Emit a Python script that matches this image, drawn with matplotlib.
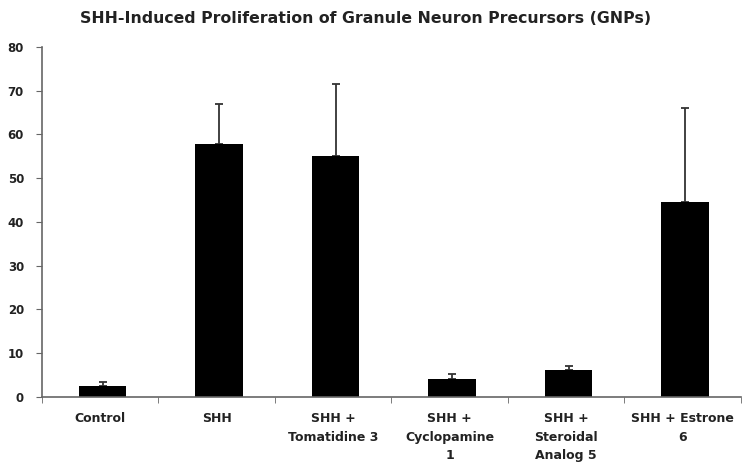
import numpy as np
import matplotlib
matplotlib.use("Agg")
import matplotlib.pyplot as plt

# データ
labels = ["Control", "SHH", "SHH +\nTomatidine 3", "SHH +\nCyclopamine\n1",
          "SHH +\nSteroidal\nAnalog 5", "SHH + Estrone\n6"]
values = [2.5, 57.8, 55.1, 4.1, 6.2, 44.6]
errors = [0.9, 9.2, 16.4, 1.1, 0.9, 21.4]

plt.rcParams["font.family"] = ["DejaVu Sans"]

fig = plt.figure(figsize=(7.42, 4.65), dpi=100)
ax = fig.add_axes([0.0566, 0.1462, 0.942, 0.753])

x = np.arange(len(labels)) + 0.02
ax.bar(x, values, width=0.41, color="black", zorder=2)
ax.errorbar(x, values, yerr=[np.zeros(len(errors)), errors], fmt="none",
            ecolor="#333333", elinewidth=1.3, capsize=3, capthick=1.3, zorder=1)

ax.set_xlim(-0.5, len(labels) - 0.5)
ax.set_ylim(0, 80)
ax.set_yticks(range(0, 81, 10))
ax.set_xticks(np.arange(len(labels)))
ax.set_xticklabels(labels, fontsize=9, fontweight="bold", color="#222222",
                   linespacing=1.55, multialignment="center")
ax.tick_params(axis="x", which="major", length=0, pad=11)
ax.set_xticks(np.arange(-0.5, len(labels)), minor=True)
ax.tick_params(axis="x", which="minor", length=4, color="#666666")
ax.tick_params(axis="y", length=4, color="#666666", labelsize=8.5, pad=9)
for t in ax.get_yticklabels():
    t.set_fontweight("bold")
    t.set_color("#222222")

for s in ["top", "right"]:
    ax.spines[s].set_visible(False)
for s in ["left", "bottom"]:
    ax.spines[s].set_color("#666666")
    ax.spines[s].set_linewidth(1.2)

fig.text(0.492, 0.961, "SHH-Induced Proliferation of Granule Neuron Precursors (GNPs)",
         ha="center", va="center", fontsize=11.3, fontweight="bold", color="#222222")

fig.savefig("out.png", dpi=100)
